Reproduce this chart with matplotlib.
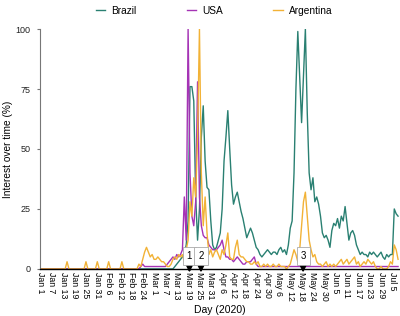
import matplotlib
matplotlib.use("Agg")
import matplotlib.pyplot as plt
import numpy as np

plt.rcParams["font.family"] = ["Liberation Sans", "DejaVu Sans"]

# daily search interest, day 0 = Jan 1 2020 ... day 189 = Jul 8 2020
brazil = ([0] * 71 +
          [1, 2, 3, 4, 5, 6, 10, 20, 76, 76,        # 71-80
           70, 30, 12, 25, 55, 68, 45, 34, 33, 20,  # 81-90
           10, 8, 9, 12, 15, 25, 45, 55, 66, 50,    # 91-100
           35, 27, 30, 32, 28, 24, 21, 17, 13, 15,  # 101-110
           17, 15, 12, 9, 8, 6, 5, 6, 7, 8,         # 111-120
           7, 6, 7, 7, 6, 8, 9, 7, 8, 6,            # 121-130
           10, 17, 20, 40, 75, 99, 80, 61, 80, 100, # 131-140
           65, 40, 33, 38, 28, 30, 27, 22, 15, 13,  # 141-150
           14, 12, 9, 16, 19, 18, 21, 17, 22, 20,   # 151-160
           26, 19, 12, 15, 16, 14, 10, 8, 6, 7,     # 161-170
           6, 6, 5, 7, 6, 7, 6, 5, 6, 7,            # 171-180
           5, 4, 6, 5, 6, 6, 25, 23, 22])           # 181-189

usa = ([0] * 53 +
       [1, 2, 1, 1, 1, 1, 1, 1, 1, 1,               # 53-62
        1, 1, 1, 1, 2, 3, 4, 5, 4, 6,               # 63-72
        5, 6, 8, 30, 12, 100, 40, 22, 18, 28,       # 73-82
        78, 30, 18, 14, 13, 13, 10, 9, 8, 8,        # 83-92
        8, 9, 10, 12, 8, 5, 5, 4, 4, 3,             # 93-102
        4, 5, 4, 3, 2, 2, 3, 3, 3, 4,               # 103-112
        5, 2, 1] +                                  # 113-115
       [1] * 74)                                    # 116-189

argentina = ([0] * 14 + [3] + [0] * 9 + [3] + [0] * 5 + [3] + [0] * 5 +
             [3] + [0] * 6 + [3] + [0] * 8 +
             [2, 1, 4, 7, 9, 7, 5, 6, 4, 4,         # 52-61
              5, 4, 3, 3, 2, 1, 1, 2, 4, 5,         # 62-71
              4, 6, 5, 6, 3, 8, 12, 28, 22, 38,     # 72-81
              30, 55, 100, 40, 18, 30, 15, 6, 8, 5, # 82-91
              7, 8, 6, 4, 8, 6, 10, 15, 5, 4,       # 92-101
              4, 9, 12, 6, 5, 5, 4, 3, 3, 2,        # 102-111
              2, 3, 2, 3, 1, 1, 2, 1, 2, 1,         # 112-121
              1, 2, 1, 1, 2, 1, 1, 1, 0, 1,         # 122-131
              2, 5, 8, 6, 3, 8, 18, 28, 32, 22,     # 132-141
              12, 8, 5, 6, 3, 2, 2, 1, 2, 3,        # 142-151
              1, 2, 1, 2, 1, 2, 3, 4, 2, 3,         # 152-161
              4, 2, 3, 4, 5, 2, 3, 1, 2, 3,         # 162-171
              2, 4, 3, 2, 3, 1, 0, 0, 1, 0,         # 172-181
              0, 0, 1, 3, 2, 10, 8, 4])             # 182-189

tick_labels = ["Jan 1", "Jan 7", "Jan 13", "Jan 19", "Jan 25", "Jan 31",
               "Feb 6", "Feb 12", "Feb 18", "Feb 24", "Mar 1", "Mar 7",
               "Mar 13", "Mar 19", "Mar 25", "Mar 31", "Apr 6", "Apr 12",
               "Apr 18", "Apr 24", "Apr 30", "May 6", "May 12", "May 18",
               "May 24", "May 30", "Jun 5", "Jun 11", "Jun 17", "Jun 23",
               "Jun 29", "Jul 5"]
tick_days = list(range(0, 187, 6))

events = ["1", "2", "3"]
event_days = [78.7, 84.8, 138.8]

assert len(brazil) == len(usa) == len(argentina) == 190
days = np.arange(len(brazil))

fig = plt.figure(figsize=(4.0, 3.16), dpi=100)
ax = fig.add_axes([0.1, 0.149, 0.8975, 0.759])

ax.plot(days, brazil, color="#2a8072", lw=1.0, label="Brazil")
ax.plot(days, usa, color="#a533b5", lw=1.0, label="USA")
ax.plot(days, argentina, color="#f2b236", lw=1.0, label="Argentina")

for lab, d in zip(events, event_days):
    ax.annotate("", xy=(d, -1.5), xytext=(d, 2.3),
                arrowprops=dict(arrowstyle="-|>", color="black", lw=1.3,
                                mutation_scale=9, shrinkA=0, shrinkB=0),
                annotation_clip=False, zorder=6)
    ax.text(d, 5.3, lab, ha="center", va="center", fontsize=7, zorder=7,
            bbox=dict(boxstyle="square,pad=0.4", fc="white", ec="#aaaaaa", lw=0.6))

ax.set_xlim(-0.3, 189.5)
ax.set_ylim(0, 100)
ax.set_xticks(tick_days)
ax.set_xticklabels(tick_labels, rotation=-90, fontsize=6.3)
ax.set_yticks([0, 25, 50, 75, 100])
ax.tick_params(axis="x", length=0, pad=2.5)
ax.tick_params(axis="y", length=2, labelsize=6.5, colors="#777777", pad=5)
for t in ax.get_yticklabels():
    t.set_color("#222222")

for s in ("top", "right"):
    ax.spines[s].set_visible(False)
ax.spines["left"].set_color("#777777")
ax.spines["bottom"].set_color("black")
ax.spines["bottom"].set_linewidth(1.0)

ax.set_ylabel("Interest over time (%)", fontsize=7.3, labelpad=1.5)
ax.set_xlabel("Day (2020)", fontsize=7.5, labelpad=3)

fig.legend(loc="upper center", bbox_to_anchor=(0.535, 1.01), ncol=3,
           frameon=False, fontsize=7.3, handlelength=0.9, handletextpad=0.6,
           columnspacing=5.0)

fig.savefig("out.png", dpi=100)
